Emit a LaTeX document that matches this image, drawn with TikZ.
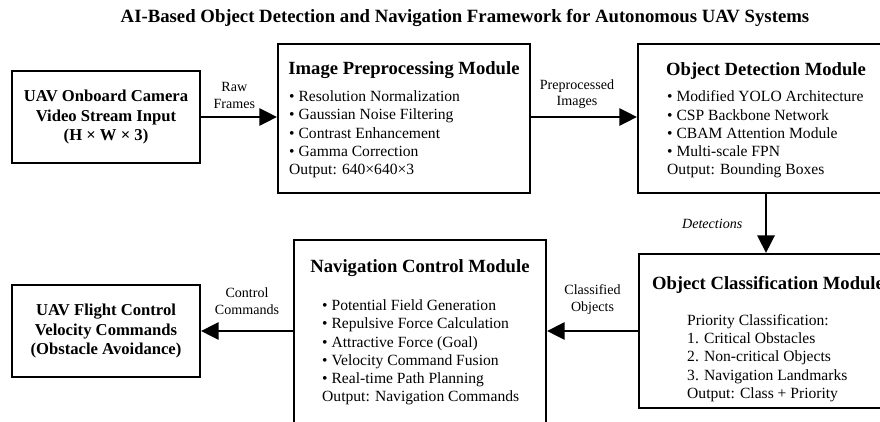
\documentclass[tikz,border=0pt]{standalone}
\usepackage{fontspec}
\setmainfont{Liberation Serif}
\usetikzlibrary{arrows.meta}
\tikzset{
    modbox/.style={draw, line width=1.7pt, inner sep=0pt, align=center}, % frame of every module
    iobox/.style={modbox, minimum width=5.64cm, minimum height=2.76cm,
        font=\bfseries\fontsize{14.2}{16.4}\selectfont}, % the two end boxes
    headtext/.style={inner sep=0pt, font=\bfseries\fontsize{15.9}{18}\selectfont}, % module titles
    listtext/.style={inner sep=0pt, align=left, anchor=west,
        font=\fontsize{13.3}{15.6}\selectfont}, % bullet lists
    flowlabel/.style={inner sep=0pt, align=center, font=\fontsize{12}{14}\selectfont}, % text on arrows
    flow/.style={-{Triangle[length=15pt, width=14.5pt]}, line width=2.5pt}, % thick arrows
}

\begin{document}
\begin{tikzpicture}[x=0.03cm, y=-0.03cm]
    \useasboundingbox (0,0) rectangle (880,421);
    \node[inner sep=0pt, font=\bfseries\fontsize{16}{18}\selectfont] (title) at (465,18)
        {AI-Based Object Detection and Navigation Framework for Autonomous UAV Systems};

    % top row
    \node[iobox] (cam) at (106,117) {UAV Onboard Camera\\Video Stream Input\\(H × W × 3)};
    \node[modbox, minimum width=7.56cm, minimum height=4.47cm] (prep) at (404,118.5) {};
    \node[headtext] (prephead) at (404,70) {Image Preprocessing Module};
    \node[listtext] (preplist) at (289,134.5) {• Resolution Normalization\\• Gaussian Noise Filtering\\• Contrast Enhancement\\• Gamma Correction\\Output: 640×640×3};
    \node[modbox, minimum width=7.68cm, minimum height=4.47cm] (det) at (766,118.5) {};
    \node[headtext] (dethead) at (766,71) {Object Detection Module};
    \node[listtext] (detlist) at (667,134.5) {• Modified YOLO Architecture\\• CSP Backbone Network\\• CBAM Attention Module\\• Multi-scale FPN\\Output: Bounding Boxes};

    % bottom row
    \node[modbox, minimum width=7.62cm, minimum height=4.62cm] (cls) at (766,331) {};
    \node[headtext] (clshead) at (768,285) {Object Classification Module};
    \node[listtext] (clslist) at (687,358) {Priority Classification:\\1. Critical Obstacles\\2. Non-critical Objects\\3. Navigation Landmarks\\Output: Class + Priority};
    \node[modbox, minimum width=7.56cm, minimum height=6cm] (nav) at (420,340) {};
    \node[headtext] (navhead) at (420,268) {Navigation Control Module};
    \node[listtext] (navlist) at (322,352.5) {• Potential Field Generation\\• Repulsive Force Calculation\\• Attractive Force (Goal)\\• Velocity Command Fusion\\• Real-time Path Planning\\Output: Navigation Commands};
    \node[iobox] (fc) at (106,331) {UAV Flight Control\\Velocity Commands\\(Obstacle Avoidance)};

    % connectors
    \draw[flow] (cam.east) -- (cam.east -| prep.west)
        node[midway, flowlabel, above=6pt, xshift=-4pt] (rawlbl) {Raw\\Frames};
    \draw[flow] (prep.east |- cam.east) -- (cam.east -| det.west)
        node[midway, flowlabel, above=6pt, xshift=-6pt] (preplbl) {Preprocessed\\Images};
    \draw[flow] (det.south) -- (cls.north)
        node[midway, flowlabel, left=19pt, font=\itshape\fontsize{12}{14}\selectfont] (detlbl) {Detections};
    \draw[flow] (cls.west) -- (cls.west -| nav.east)
        node[midway, flowlabel, above=13pt] (clslbl) {Classified\\Objects};
    \draw[flow] (nav.west |- fc.east) -- (fc.east)
        node[midway, flowlabel, above=13pt] (ctrllbl) {Control\\Commands};
\end{tikzpicture}
\end{document}
